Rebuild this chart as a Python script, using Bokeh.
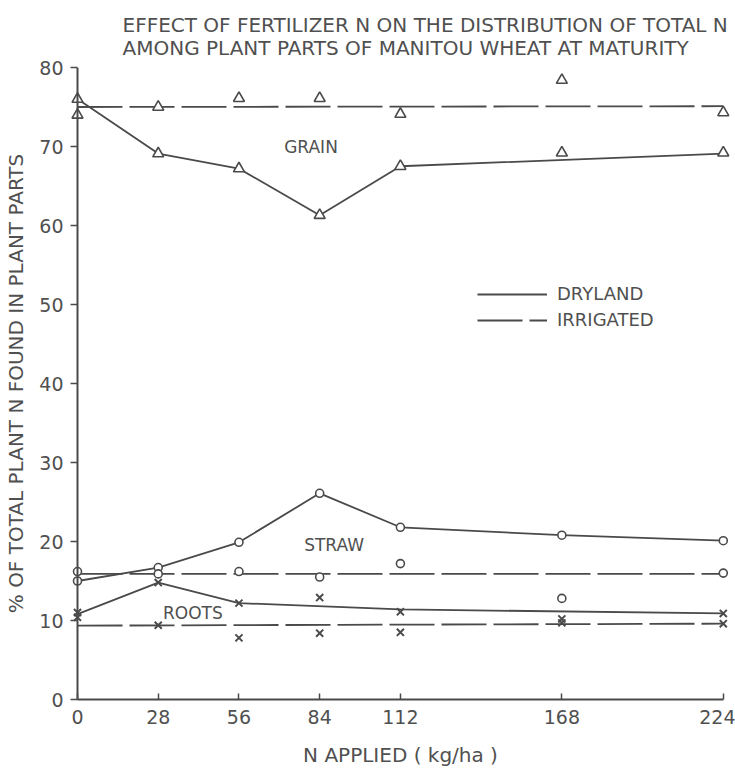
from bokeh.plotting import figure
from bokeh.models import Range1d, FixedTicker, Span, Legend, LegendItem, Title
from bokeh.core.properties import value
from bokeh.embed import file_html
from bokeh.resources import INLINE

# ---------------- data ----------------
n_applied = [0, 28, 56, 84, 112, 168, 224]
x_tick_values = [0, 28, 56, 84, 112, 168, 224]
y_tick_values = [0, 10, 20, 30, 40, 50, 60, 70, 80]

grain_dryland = [76.0, 69.1, 67.2, 61.3, 67.5, 69.2, 69.2]
grain_irrigated = [74.0, 75.0, 76.1, 76.1, 74.1, 78.4, 74.3]
straw_dryland = [15.0, 16.7, 19.9, 26.1, 21.8, 20.8, 20.1]
straw_irrigated = [16.2, 15.9, 16.2, 15.5, 17.2, 12.8, 16.0]
roots_dryland = [11.0, 14.8, 12.2, 12.9, 11.1, 10.2, 10.9]
roots_irrigated = [10.4, 9.4, 7.8, 8.4, 8.5, 9.7, 9.6]

# drawn (fitted) curves
grain_dryland_curve_x = [0, 28, 56, 84, 112, 224]
grain_dryland_curve = [76.0, 69.1, 67.2, 61.3, 67.5, 69.1]
grain_irrigated_curve_x = [0, 224]
grain_irrigated_curve = [75.0, 75.1]
straw_dryland_curve_x = [0, 28, 56, 84, 112, 168, 224]
straw_dryland_curve = [15.0, 16.7, 19.9, 26.1, 21.8, 20.8, 20.1]
straw_irrigated_curve_x = [0, 224]
straw_irrigated_curve = [15.9, 15.9]
roots_dryland_curve_x = [0, 28, 56, 112, 224]
roots_dryland_curve = [10.8, 14.8, 12.2, 11.4, 10.9]
roots_irrigated_curve_x = [0, 224]
roots_irrigated_curve = [9.35, 9.6]

part_names = ["GRAIN", "STRAW", "ROOTS"]
legend_names = ["DRYLAND", "IRRIGATED"]
title_lines = ["EFFECT OF FERTILIZER N ON THE DISTRIBUTION OF TOTAL N",
               "AMONG PLANT PARTS OF MANITOU WHEAT AT MATURITY"]
x_title = "N APPLIED ( kg/ha )"
y_title = "% OF TOTAL PLANT N FOUND IN PLANT PARTS"

# ---------------- style ----------------
INK = "#4a4a4a"
TEXT = "#505050"
FONT = "DejaVu Sans"
DASH = "45 7"

p = figure(width=735, height=772, output_backend="svg", toolbar_location=None,
           x_range=Range1d(-2.43, 226.5), y_range=Range1d(0, 80),
           min_border_left=70, min_border_right=5, min_border_top=67,
           min_border_bottom=73, background_fill_color="white",
           border_fill_color="white", outline_line_color=None, title=None)
p.grid.visible = False

p.title = Title(text="\n".join(title_lines), align="left", offset=52,
                text_font=FONT, text_font_size="20px", text_font_style="normal",
                text_color=TEXT, text_line_height=0.95, standoff=15)

# axes
xa = p.xaxis[0]
xa.ticker = FixedTicker(ticks=x_tick_values)
xa.bounds = (0, 224)
xa.axis_line_color = INK
xa.axis_line_width = 2
xa.major_tick_in = 6
xa.major_tick_out = 0
xa.major_tick_line_color = INK
xa.major_tick_line_width = 1.5
xa.minor_tick_line_color = None
xa.major_label_text_font = FONT
xa.major_label_text_font_size = "19px"
xa.major_label_text_color = TEXT
xa.major_label_standoff = 10
xa.axis_label = x_title
xa.axis_label_text_font = FONT
xa.axis_label_text_font_size = "20px"
xa.axis_label_text_font_style = "normal"
xa.axis_label_text_color = TEXT
xa.axis_label_standoff = 16

ya = p.yaxis[0]
ya.ticker = FixedTicker(ticks=y_tick_values)
ya.axis_line_color = None
ya.major_tick_in = 7
ya.major_tick_out = 0
ya.major_tick_line_color = INK
ya.major_tick_line_width = 1.5
ya.minor_tick_line_color = None
ya.major_label_text_font = FONT
ya.major_label_text_font_size = "19px"
ya.major_label_text_color = TEXT
ya.major_label_standoff = 7
ya.axis_label = y_title
ya.axis_label_text_font = FONT
ya.axis_label_text_font_size = "20px"
ya.axis_label_text_font_style = "normal"
ya.axis_label_text_color = TEXT
ya.axis_label_standoff = 8

p.add_layout(Span(location=0, dimension="height", line_color=INK, line_width=2))

# curves
dry_line = p.line(grain_dryland_curve_x, grain_dryland_curve, line_color=INK, line_width=1.8)
irr_line = p.line(grain_irrigated_curve_x, grain_irrigated_curve, line_color=INK,
                  line_width=1.8, line_dash=DASH)
p.line(straw_dryland_curve_x, straw_dryland_curve, line_color=INK, line_width=1.8)
p.line(straw_irrigated_curve_x, straw_irrigated_curve, line_color=INK, line_width=1.8,
       line_dash=DASH)
p.line(roots_dryland_curve_x, roots_dryland_curve, line_color=INK, line_width=1.8)
p.line(roots_irrigated_curve_x, roots_irrigated_curve, line_color=INK, line_width=1.8,
       line_dash=DASH)

# markers
for ys in (grain_dryland, grain_irrigated):
    p.scatter(n_applied, ys, marker="triangle", size=11, fill_color="white",
              line_color=INK, line_width=1.6)
for ys in (straw_dryland, straw_irrigated):
    p.scatter(n_applied, ys, marker="circle", size=8, fill_color="white",
              line_color=INK, line_width=1.6)
for ys in (roots_dryland, roots_irrigated):
    p.scatter(n_applied, ys, marker="x", size=10, line_color=INK, line_width=2)

# part labels
p.text(x=[81, 89, 40], y=[70.0, 19.5, 10.9], text=part_names,
       text_font=value(FONT), text_font_size="17px", text_color=TEXT,
       text_align="center", text_baseline="middle")

legend = Legend(items=[LegendItem(label=legend_names[0], renderers=[dry_line]),
                       LegendItem(label=legend_names[1], renderers=[irr_line])],
                location=(407, 369), glyph_width=70, glyph_height=18,
                label_height=18, label_standoff=10, spacing=5, padding=0, margin=0,
                border_line_color=None, background_fill_alpha=0,
                label_text_font=FONT, label_text_font_size="18px",
                label_text_color=TEXT)
p.add_layout(legend)

open("out.html", "w").write(file_html(p, INLINE))
